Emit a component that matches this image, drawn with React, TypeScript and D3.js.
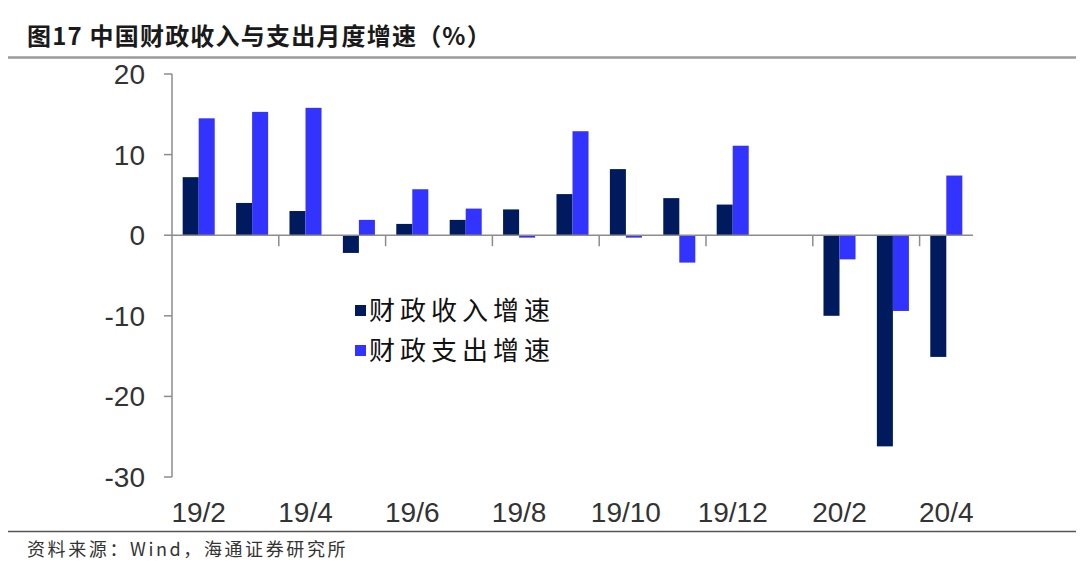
import React from "react";
import * as d3 from "d3";

const categories = ["19/2","19/3","19/4","19/5","19/6","19/7","19/8","19/9","19/10","19/11","19/12","20/1","20/2","20/3","20/4"];
const revenue: (number | null)[] = [7.2, 4.0, 3.0, -2.2, 1.4, 1.9, 3.2, 5.1, 8.2, 4.6, 3.8, null, -10.0, -26.2, -15.1];
const expenditure: (number | null)[] = [14.5, 15.3, 15.8, 1.9, 5.7, 3.3, -0.3, 12.9, -0.3, -3.4, 11.1, null, -3.0, -9.4, 7.4];
const seriesNames = ["财政收入增速", "财政支出增速"];
const seriesColors = ["#001a5e", "#3333ff"];
const yTicks = [20, 10, 0, -10, -20, -30];
const xLabelCats = ["19/2","19/4","19/6","19/8","19/10","19/12","20/2","20/4"];
const title = "图17 中国财政收入与支出月度增速（%）";
const source = "资料来源：Wind，海通证券研究所";

export default function App() {
  const W = 1080, H = 568;
  const left = 172, right = 973, top = 74, bottom = 477;
  const x = d3.scaleBand<string>().domain(categories).range([left, right]).paddingInner(0.4).paddingOuter(0.2);
  const sub = d3.scaleBand<number>().domain([0, 1]).range([0, x.bandwidth()]);
  const y = d3.scaleLinear().domain([-30, 20]).range([bottom, top]);
  const step = x.step();
  const y0 = y(0);
  const series = [revenue, expenditure];
  const boundaries = d3.range(2, categories.length, 2).map((i) => left + i * step);
  const sans = "'Liberation Sans', Arial, sans-serif";
  const cjk = "'Noto Sans CJK SC', sans-serif";

  return (
    <svg width={W} height={H} style={{ position: "absolute", left: 0, top: 0, background: "#fff" }}>
      <text x={27} y={45} fontFamily={cjk} fontWeight="bold" fontSize={24} fill="#1a1a1a" letterSpacing={1.2}>{title}</text>
      <line x1={8} x2={1076} y1={57.5} y2={57.5} stroke="#9a9a9a" strokeWidth={2.5} />

      {series.map((vals, si) =>
        vals.map((v, i) =>
          v === null ? null : (
            <rect key={`${si}-${i}`}
              x={(x(categories[i]) as number) + (sub(si) as number)}
              y={Math.min(y(v), y0)}
              width={sub.bandwidth()}
              height={Math.abs(y(v) - y0)}
              fill={seriesColors[si]} />
          )
        )
      )}

      <line x1={left} x2={left} y1={top} y2={bottom} stroke="#8c8c8c" strokeWidth={1.5} />
      {yTicks.map((t) => (
        <g key={t}>
          <line x1={left - 8} x2={left} y1={y(t)} y2={y(t)} stroke="#8c8c8c" strokeWidth={1.5} />
          <text x={145} y={y(t)} dy="0.36em" textAnchor="end" fontFamily={sans} fontSize={28} fill="#333">{t}</text>
        </g>
      ))}
      <line x1={left} x2={right} y1={y0} y2={y0} stroke="#8c8c8c" strokeWidth={1.5} />
      {boundaries.map((bx, i) => (
        <line key={i} x1={bx} x2={bx} y1={y0} y2={y0 + 11} stroke="#8c8c8c" strokeWidth={1.5} />
      ))}
      {xLabelCats.map((c) => (
        <text key={c} x={(x(c) as number) + x.bandwidth() / 2} y={522} textAnchor="middle" fontFamily={sans} fontSize={28} fill="#333">{c}</text>
      ))}

      {seriesNames.map((n, i) => (
        <g key={n}>
          <rect x={355} y={305 + i * 40} width={11} height={11} fill={seriesColors[i]} />
          <text x={369} y={320 + i * 40} fontFamily={cjk} fontSize={26} letterSpacing={5} fill="#111">{n}</text>
        </g>
      ))}

      <line x1={8} x2={1076} y1={531.5} y2={531.5} stroke="#555" strokeWidth={1.5} />
      <text x={27} y={556} fontFamily={cjk} fontSize={18} letterSpacing={2.6} fill="#333">{source}</text>
    </svg>
  );
}
